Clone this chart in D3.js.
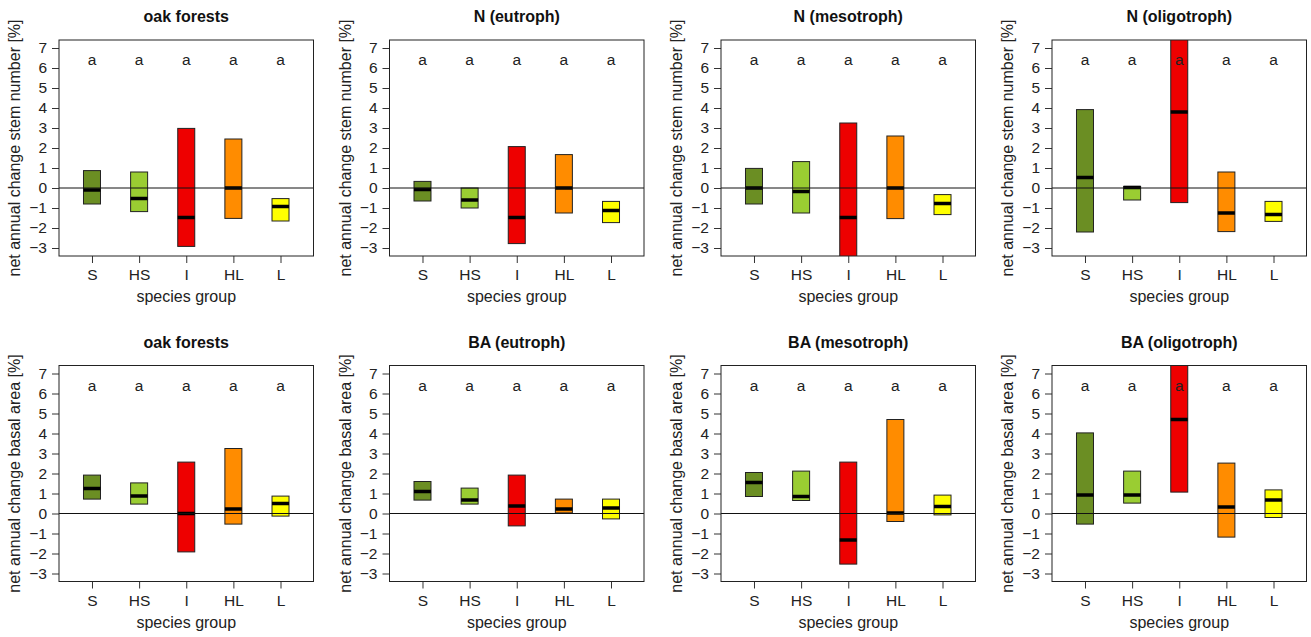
<!DOCTYPE html>
<html>
<head>
<meta charset="utf-8">
<script src="https://cdn.jsdelivr.net/npm/d3@7"></script>
<style>
  body { margin: 0; background: #fff; }
  svg { display: block; font-family: "Liberation Sans", Arial, sans-serif; }
</style>
</head>
<body>
<div id="main-container"></div>
<script>
// Data: box = lower / median / upper per species group
const GROUPS = ['S', 'HS', 'I', 'HL', 'L'];
const LETTERS = ['a', 'a', 'a', 'a', 'a'];
const Y_TICKS = [-3, -2, -1, 0, 1, 2, 3, 4, 5, 6, 7];
const COLORS = ['#6b8e23', '#9acd32', '#ee0000', '#ff8c00', '#ffff00'];

const TITLES_N = ['oak forests', 'N (eutroph)', 'N (mesotroph)', 'N (oligotroph)'];
const TITLES_BA = ['oak forests', 'BA (eutroph)', 'BA (mesotroph)', 'BA (oligotroph)'];
const YLAB_N = 'net annual change stem number [%]';
const YLAB_BA = 'net annual change basal area [%]';
const XLAB = 'species group';

// stem number panels
const N_LOWER = [
    [-0.8, -1.18, -2.92, -1.52, -1.65],
    [-0.65, -1.0, -2.78, -1.25, -1.73],
    [-0.8, -1.25, -3.6, -1.53, -1.33],
    [-2.2, -0.6, -0.73, -2.18, -1.67]
];
const N_MEDIAN = [
    [-0.1, -0.53, -1.48, 0.0, -0.93],
    [-0.07, -0.6, -1.48, 0.0, -1.12],
    [0.0, -0.18, -1.48, 0.0, -0.77],
    [0.53, 0.02, 3.8, -1.25, -1.32]
];
const N_UPPER = [
    [0.87, 0.8, 2.98, 2.45, -0.53],
    [0.33, 0.0, 2.07, 1.67, -0.67],
    [0.98, 1.32, 3.25, 2.6, -0.33],
    [3.92, 0.08, 7.8, 0.8, -0.67]
];

// basal area panels
const BA_LOWER = [
    [0.72, 0.47, -1.92, -0.53, -0.13],
    [0.67, 0.47, -0.62, 0.03, -0.27],
    [0.85, 0.65, -2.53, -0.4, -0.07],
    [-0.53, 0.52, 1.07, -1.18, -0.2]
];
const BA_MEDIAN = [
    [1.25, 0.87, 0.0, 0.22, 0.5],
    [1.1, 0.67, 0.38, 0.22, 0.27],
    [1.55, 0.85, -1.33, 0.03, 0.35],
    [0.93, 0.93, 4.7, 0.33, 0.67]
];
const BA_UPPER = [
    [1.92, 1.53, 2.57, 3.25, 0.87],
    [1.6, 1.27, 1.92, 0.72, 0.72],
    [2.05, 2.12, 2.57, 4.7, 0.92],
    [4.03, 2.12, 7.8, 2.52, 1.18]
];

const WIDTH = 1311;
const HEIGHT = 637;
const PLOT_LEFT = [59, 389.5, 721, 1052];
const PLOT_W = 254.5;
const ROW_TOP = [40, 365.5];
const PLOT_H = 216;
const BOX_W = 17;

const SVG = d3.select('#main-container').append('svg')
    .attr('width', WIDTH)
    .attr('height', HEIGHT);

const drawPanel = (row, col, title, ylab, lower, median, upper) => {
    const left = PLOT_LEFT[col];
    const top = ROW_TOP[row];
    const g = SVG.append('g');

    const xScale = d3.scalePoint()
        .domain(GROUPS)
        .range([left, left + PLOT_W])
        .padding(0.7);
    const yScale = d3.scaleLinear()
        .domain([-3.4, 7.4])
        .range([top + PLOT_H, top]);

    const clipId = `clip-${row}-${col}`;
    g.append('clipPath').attr('id', clipId)
        .append('rect')
        .attr('x', left).attr('y', top)
        .attr('width', PLOT_W).attr('height', PLOT_H);

    const data = GROUPS.map((k, i) => ({ k, lo: lower[i], med: median[i], hi: upper[i], c: COLORS[i], letter: LETTERS[i] }));

    const marks = g.append('g').attr('clip-path', `url(#${clipId})`);
    marks.selectAll('rect.box')
        .data(data).enter()
        .append('rect')
        .attr('class', 'box')
        .attr('x', d => xScale(d.k) - BOX_W / 2)
        .attr('y', d => yScale(d.hi))
        .attr('width', BOX_W)
        .attr('height', d => yScale(d.lo) - yScale(d.hi))
        .attr('fill', d => d.c)
        .attr('stroke', '#222')
        .attr('stroke-width', 1);
    marks.selectAll('line.med')
        .data(data).enter()
        .append('line')
        .attr('class', 'med')
        .attr('x1', d => xScale(d.k) - BOX_W / 2)
        .attr('x2', d => xScale(d.k) + BOX_W / 2)
        .attr('y1', d => yScale(d.med))
        .attr('y2', d => yScale(d.med))
        .attr('stroke', '#000')
        .attr('stroke-width', 3.5);

    // zero reference line
    marks.append('line')
        .attr('x1', left).attr('x2', left + PLOT_W)
        .attr('y1', yScale(0)).attr('y2', yScale(0))
        .attr('stroke', '#111')
        .attr('stroke-width', 1);

    // significance letters
    g.selectAll('text.letter')
        .data(data).enter()
        .append('text')
        .attr('class', 'letter')
        .attr('x', d => xScale(d.k))
        .attr('y', yScale(6.4))
        .attr('dy', '0.35em')
        .attr('text-anchor', 'middle')
        .style('font-size', '15.5px')
        .style('fill', '#222')
        .text(d => d.letter);

    // axes
    const yAxis = d3.axisLeft(yScale)
        .tickValues(Y_TICKS)
        .tickSize(7)
        .tickSizeOuter(0)
        .tickPadding(5);
    const yg = g.append('g')
        .attr('transform', `translate(${left},0)`)
        .call(yAxis);
    const xAxis = d3.axisBottom(xScale)
        .tickSize(7)
        .tickSizeOuter(0)
        .tickPadding(6);
    const xg = g.append('g')
        .attr('transform', `translate(0,${top + PLOT_H})`)
        .call(xAxis);
    [yg, xg].forEach(a => {
        a.select('.domain').remove();
        a.selectAll('line').attr('stroke', '#333');
        a.selectAll('text')
            .style('font-size', '15.5px')
            .style('font-family', '"Liberation Sans", Arial, sans-serif')
            .attr('fill', '#222');
    });

    // plot frame
    g.append('rect')
        .attr('x', left).attr('y', top)
        .attr('width', PLOT_W).attr('height', PLOT_H)
        .attr('fill', 'none')
        .attr('stroke', '#222')
        .attr('stroke-width', 1);

    // title
    g.append('text')
        .attr('x', left + PLOT_W / 2)
        .attr('y', top - 18)
        .attr('text-anchor', 'middle')
        .style('font-size', '16px')
        .style('font-weight', 'bold')
        .style('fill', '#111')
        .text(title);

    // axis titles
    g.append('text')
        .attr('x', left + PLOT_W / 2)
        .attr('y', top + PLOT_H + 46)
        .attr('text-anchor', 'middle')
        .style('font-size', '16px')
        .style('fill', '#222')
        .text(XLAB);
    g.append('text')
        .attr('transform', `translate(${left - 39},${top + PLOT_H / 2}) rotate(-90)`)
        .attr('text-anchor', 'middle')
        .style('font-size', '16px')
        .style('fill', '#222')
        .text(ylab);
};

TITLES_N.forEach((t, i) => drawPanel(0, i, t, YLAB_N, N_LOWER[i], N_MEDIAN[i], N_UPPER[i]));
TITLES_BA.forEach((t, i) => drawPanel(1, i, t, YLAB_BA, BA_LOWER[i], BA_MEDIAN[i], BA_UPPER[i]));
</script>
</body>
</html>
